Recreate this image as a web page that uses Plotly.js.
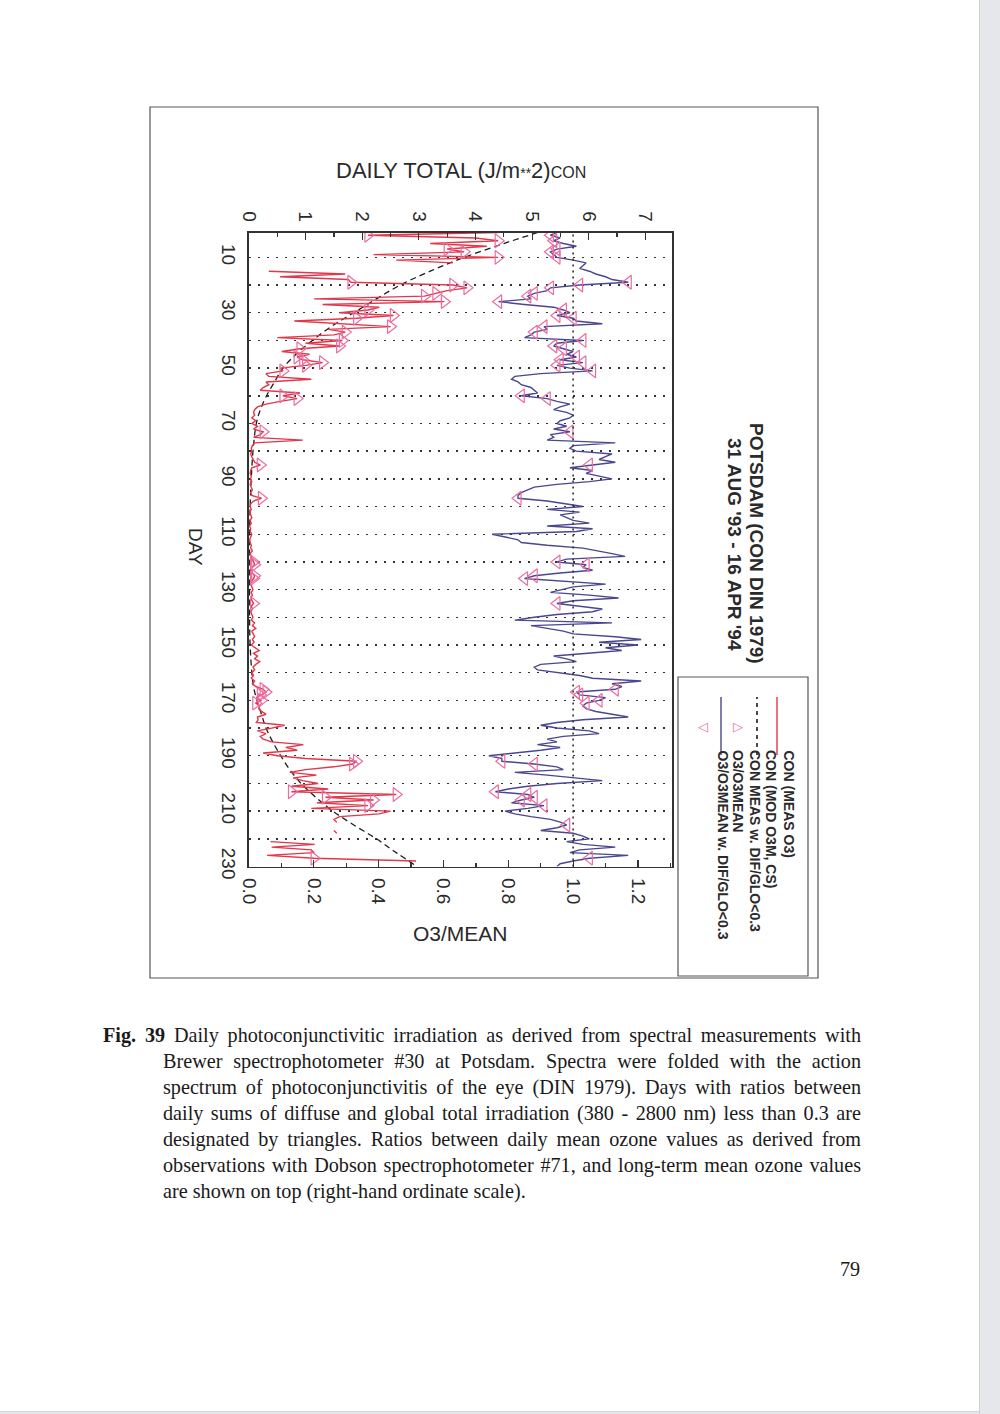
<!DOCTYPE html>
<html>
<head>
<meta charset="utf-8">
<script src="https://cdn.plot.ly/plotly-3.0.1.min.js"></script>
<style>
html,body{margin:0;padding:0;background:#fff;}
#page{position:relative;width:1000px;height:1414px;overflow:hidden;background:#fff;}
#strip{position:absolute;left:979px;top:0;width:21px;height:1414px;background:#e6e7ea;border-left:1px solid #cfd0d3;}
#bottomline{position:absolute;left:0;top:1411px;width:979px;height:3px;background:#e6e7ea;border-top:1px solid #d5d6d9;}
#chart{position:absolute;left:0;top:0;width:1000px;height:1414px;}
.cap{position:absolute;font-family:"Liberation Serif","Times New Roman",serif;font-size:20.2px;line-height:26px;height:26px;color:#1a1a1a;overflow:hidden;}
.j{text-align:justify;text-align-last:justify;}
</style>
</head>
<body>
<div id="page">
  <div id="strip"></div>
  <div id="bottomline"></div>
  <div id="chart"></div>
  <div class="cap j" style="left:103px;top:1022px;width:758px;"><b>Fig. 39</b> Daily photoconjunctivitic irradiation as derived from spectral measurements with</div>
  <div class="cap j" style="left:163px;top:1048px;width:698px;">Brewer spectrophotometer #30 at Potsdam. Spectra were folded with the action</div>
  <div class="cap j" style="left:163px;top:1074px;width:698px;">spectrum of photoconjunctivitis of the eye (DIN 1979). Days with ratios between</div>
  <div class="cap j" style="left:163px;top:1100px;width:698px;">daily sums of diffuse and global total irradiation (380 - 2800 nm) less than 0.3 are</div>
  <div class="cap j" style="left:163px;top:1126px;width:698px;">designated by triangles. Ratios between daily mean ozone values as derived from</div>
  <div class="cap j" style="left:163px;top:1152px;width:698px;">observations with Dobson spectrophotometer #71, and long-term mean ozone values</div>
  <div class="cap" style="left:163px;top:1178px;width:698px;">are shown on top (right-hand ordinate scale).</div>
  <div class="cap" style="left:840px;top:1256px;width:30px;">79</div>
</div>
<script>
// ---------------- data ----------------
const START_DAY = 1;

// CON (MEAS O3), daily total J/m**2, days 1..230
const CON_MEAS = [
  4.4, 2.1, 4.0, 4.4, 3.2, 4.2, 3.5, 3.8, 2.2, 4.4,
  2.6, 3.6, null, null, 0.35, 1.7, 0.55, 1.75, 1.8, 3.6,
  3.85, 3.5, 3.3, 3.1, 1.15, 3.45, 1.3, 2.3, 2.1, 1.6,
  2.55, 1.9, 0.8, 1.75, 2.5, 1.4, 1.7, 1.5, 0.5, 1.65,
  1.0, 1.6, 0.9, 0.58, 1.07, 0.85, 0.95, 1.3, 1.0, 0.55,
  0.6, 0.3, 0.35, 1.1, 0.3, 0.35, 0.25, 0.2, 0.9, 0.6,
  0.85, 0.55, 0.3, 0.15, 0.1, 0.08, 0.1, 0.05, 0.12, 0.05,
  0.15, 0.08, 0.25, 0.2, 0.08, 0.95, 0.1, 0.06, 0.04, 0.05,
  0.03, 0.05, 0.08, 0.1, 0.2, 0.05, 0.03, 0.02, 0.04, 0.03,
  0.05, 0.02, 0.04, 0.06, 0.03, 0.05, 0.22, 0.08, 0.03, 0.02,
  0.04, 0.01, 0.03, 0.05, 0.02, 0.04, 0.01, 0.03, 0.02, 0.05,
  0.03, 0.01, 0.02, 0.04, 0.03, 0.06, 0.02, 0.04, 0.05, 0.08,
  0.1, 0.05, 0.03, 0.06, 0.1, 0.08, 0.04, 0.03, 0.05, 0.07,
  0.04, 0.06, 0.03, 0.05, 0.08, 0.04, 0.06, 0.03, 0.05, 0.07,
  0.04, 0.1, 0.06, 0.12, 0.05, 0.08, 0.1, 0.06, 0.09, 0.04,
  0.12, 0.18, 0.08, 0.15, 0.1, 0.19, 0.12, 0.07, 0.1, 0.05,
  0.08, 0.04, 0.1, 0.06, 0.12, 0.25, 0.3, 0.2, 0.13, 0.22,
  0.12, 0.19, 0.17, 0.22, 0.3, 0.15, 0.16, 0.13, 0.63, 0.4,
  0.15, 0.3, 0.2, 0.25, 0.4, 0.96, 0.65, 0.85, 0.25, 0.5,
  1.0, 1.9, 1.83, 1.5, 1.0, 0.72, 1.19, 0.78, 0.95, 1.22,
  0.75, 1.4, 0.75, 2.6, 1.35, 2.2, 1.2, 2.1, 1.1, 2.5,
  2.3, 1.6, 1.5, 1.55, null, null, 1.5, 1.55, null, null,
  0.38, 1.16, 0.4, 1.1, 1.15, 0.32, 1.15, 2.95, null, null
];

// O3/O3MEAN ratio, days 1..230
const O3_RATIO = [
  0.95, 0.93, 0.96, 0.94, 0.97, 1.01, 0.95, 0.93, 0.94, 0.95,
  1.0, 1.04, 1.03, 1.02, 1.05, 1.07, 1.1, 1.12, 1.17, 1.02,
  0.93, 0.92, 0.88, 0.86, 0.87, 0.77, 0.85, 0.94, 0.97, 0.99,
  0.95, 1.0, 1.01, 1.09, 0.91, 0.92, 0.88, 0.87, 0.85, 1.03,
  0.95, 0.94, 0.97, 1.0, 0.98, 1.01, 0.96, 1.03, 0.95, 0.99,
  1.06, 0.9, 0.82, 0.81, 0.83, 0.84, 0.87, 0.88, 0.89, 0.84,
  0.92, 0.95, 0.99, 0.96, 0.94, 0.98, 1.0, 0.99, 0.96, 0.95,
  0.98, 0.94, 0.99, 0.93, 0.94, 0.92, 1.13, 1.0, 0.99, 1.01,
  1.12, 1.1, 1.08, 1.13, 1.05, 0.99, 1.06, 1.04, 1.08, 1.12,
  1.05, 0.95, 0.88, 0.86, 0.84, 0.83, 0.83, 0.92, 0.97, 1.03,
  0.92, 1.02, 0.96, 0.98, 1.0, 1.05, 0.92, 1.06, 1.01, 0.75,
  0.79, 0.83, 0.84, 0.92, 1.03, 1.08, 1.12, 1.16, 0.98, 0.95,
  1.04, 1.03, 1.06, 0.96, 0.88, 0.85, 0.98, 1.1, 1.0, 0.96,
  0.93, 1.05, 1.14, 1.0, 0.95, 1.02, 1.09, 1.06, 0.95, 0.88,
  0.82, 1.12, 0.87, 0.92, 0.97, 1.0, 1.13, 1.21, 1.08, 1.2,
  1.1, 1.15, 1.05, 0.94, 0.98, 1.01, 0.9, 0.88, 0.89, 0.95,
  1.02, 1.06, 1.21, 1.12, 1.15, 1.13, 1.01, 1.02, 1.1, 1.08,
  1.04, 1.03, 1.04, 1.07, 1.12, 1.17, 1.03, 0.95, 0.9, 0.95,
  1.05, 1.08, 0.97, 0.92, 0.95, 0.89, 0.96, 0.9, 0.82, 0.74,
  0.78, 0.78, 0.88, 0.95, 0.97, 0.82, 0.92, 1.0, 1.09, 0.95,
  0.86, 0.8, 0.76, 0.86, 0.88, 0.84, 0.81, 0.91, 0.86, 0.79,
  0.82, 0.87, 0.93, 0.96, 0.98, 0.95, 0.9, 1.0, 1.03, 1.05,
  0.98, 1.03, 1.13, 1.02, 0.99, 1.17, 1.05, 1.0, 0.96, 0.95
];

// days with DIF/GLO < 0.3 (triangles)
const TRI_DAYS = [2, 4, 7, 8, 10, 19, 20, 21, 23, 24, 26, 29, 31, 32, 35, 37, 40, 42, 43,
  46, 47, 48, 49, 51, 60, 61, 73, 85, 97, 120, 121, 125, 126, 135, 166, 167, 168, 170, 171,
  192, 193, 203, 204, 205, 206, 208, 215, 227];

// CON (MOD O3M, CS) model curve
const MOD_DAYS = [1, 5, 10, 15, 20, 25, 30, 35, 40, 45, 50, 55, 60, 65, 70, 80, 90, 100, 110,
  120, 130, 140, 150, 160, 165, 170, 175, 180, 185, 190, 195, 200, 205, 210, 215, 220, 225, 230];
const CON_MOD = [5.1, 4.5, 3.8, 3.2, 2.67, 2.25, 1.85, 1.45, 1.12, 0.83, 0.6, 0.45, 0.31, 0.2,
  0.13, 0.07, 0.04, 0.02, 0.01, 0.01, 0.01, 0.01, 0.02, 0.05, 0.08, 0.14, 0.22, 0.3, 0.42, 0.56,
  0.72, 0.92, 1.18, 1.48, 1.85, 2.25, 2.6, 2.97];

const REF_RATIO = 1.0;
const DAY_TICKS = [10, 30, 50, 70, 90, 110, 130, 150, 170, 190, 210, 230];
const CON_TICKS = [0, 1, 2, 3, 4, 5, 6, 7];
const RATIO_TICKS = [0.0, 0.2, 0.4, 0.6, 0.8, 1.0, 1.2];

const LEGEND_LABELS = ["CON (MEAS O3)", "CON (MOD O3M, CS)", "CON MEAS w. DIF/GLO<0.3",
  "O3/O3MEAN", "O3/O3MEAN w. DIF/GLO<0.3"];

// ---------------- drawing ----------------
const DAYS = CON_MEAS.map((_, i) => START_DAY + i);
const triCon = TRI_DAYS.map(d => CON_MEAS[d - START_DAY]);
const triO3 = TRI_DAYS.map(d => O3_RATIO[d - START_DAY]);

const RED = '#e1374a', BLUE = '#4a4690', PINK = '#ec6c9f', INK = '#2a2a2a';
const W = 1000, H = 1414;
const px = x => x / W;
const py = y => 1 - y / H;

const yDom = [py(866.5), py(233)];
const xDom = [px(249), px(672)];

const traces = [
  {x: CON_MOD, y: MOD_DAYS, xaxis: 'x2', yaxis: 'y', mode: 'lines',
   line: {color: '#1c1c1c', width: 1.3, dash: '6px,4px', shape: 'spline'}, hoverinfo: 'skip'},
  {x: CON_MEAS, y: DAYS, xaxis: 'x2', yaxis: 'y', mode: 'lines', connectgaps: false,
   line: {color: RED, width: 1.4}},
  {x: triCon, y: TRI_DAYS, xaxis: 'x2', yaxis: 'y', mode: 'markers',
   marker: {symbol: 'triangle-right-open', size: 12, color: PINK, line: {width: 1.2, color: PINK}}},
  {x: O3_RATIO, y: DAYS, xaxis: 'x', yaxis: 'y', mode: 'lines',
   line: {color: BLUE, width: 1.4}},
  {x: triO3, y: TRI_DAYS, xaxis: 'x', yaxis: 'y', mode: 'markers',
   marker: {symbol: 'triangle-left-open', size: 12, color: PINK, line: {width: 1.2, color: PINK}}}
];

const tickFont = {family: 'Liberation Sans, Arial, sans-serif', size: 19, color: INK};
const GRID_DOT = '2px,7px';

const layout = {
  width: W, height: H,
  margin: {l: 0, r: 0, t: 0, b: 0},
  paper_bgcolor: 'rgba(0,0,0,0)', plot_bgcolor: 'rgba(0,0,0,0)',
  showlegend: false,
  font: {family: 'Liberation Sans, Arial, sans-serif', color: INK},
  xaxis: {
    domain: xDom, range: [0, 1.305], anchor: 'y', side: 'bottom',
    tickvals: RATIO_TICKS, tickformat: '.1f', tickangle: 90, tickfont: tickFont,
    ticks: 'inside', ticklen: 7, tickwidth: 1.2, tickcolor: '#333',
    minor: {dtick: 0.1, tick0: 0, ticks: 'inside', ticklen: 4, tickcolor: '#333'},
    showline: true, linecolor: '#333', linewidth: 1.6,
    showgrid: false, zeroline: false, ticklabelstandoff: 6
  },
  xaxis2: {
    domain: xDom, range: [0, 7.47], anchor: 'y', side: 'top', overlaying: 'x',
    tickvals: CON_TICKS, tickangle: 90, tickfont: tickFont,
    ticks: 'inside', ticklen: 7, tickwidth: 1.2, tickcolor: '#333',
    minor: {dtick: 0.5, tick0: 0, ticks: 'inside', ticklen: 4, tickcolor: '#333'},
    showline: true, linecolor: '#333', linewidth: 1.6,
    showgrid: false, zeroline: false, ticklabelstandoff: 3
  },
  yaxis: {
    domain: yDom, range: [230, 1.2], anchor: 'x',
    tickvals: DAY_TICKS, tickangle: 90, tickfont: tickFont, ticks: '',
    showline: true, mirror: true, linecolor: '#333', linewidth: 1.6,
    showgrid: true, gridcolor: '#333', gridwidth: 1.4, griddash: GRID_DOT,
    minor: {dtick: 10, tick0: 0, showgrid: true, gridcolor: '#333', gridwidth: 1.4, griddash: GRID_DOT},
    zeroline: false, ticklabelstandoff: 3
  },
  shapes: [
    {type: 'line', xref: 'x', yref: 'paper', x0: REF_RATIO, x1: REF_RATIO, y0: yDom[0], y1: yDom[1],
     line: {color: '#333', width: 1.6, dash: '2px,4px'}},
    {type: 'rect', xref: 'paper', yref: 'paper', x0: px(150), x1: px(818), y0: py(978), y1: py(107),
     line: {color: '#555', width: 1.2}},
    {type: 'rect', xref: 'paper', yref: 'paper', x0: px(678), x1: px(808), y0: py(976), y1: py(677),
     line: {color: '#555', width: 1.2}},
    {type: 'line', xref: 'paper', yref: 'paper', x0: px(777), x1: px(777), y0: py(755), y1: py(697),
     line: {color: RED, width: 1.4}},
    {type: 'line', xref: 'paper', yref: 'paper', x0: px(757), x1: px(757), y0: py(755), y1: py(697),
     line: {color: '#1c1c1c', width: 1.6, dash: '4px,4px'}},
    {type: 'line', xref: 'paper', yref: 'paper', x0: px(721), x1: px(721), y0: py(755), y1: py(697),
     line: {color: BLUE, width: 1.4}}
  ],
  annotations: [
    {xref: 'paper', yref: 'paper', x: px(461), y: py(170), xanchor: 'center', yanchor: 'middle', showarrow: false,
     text: 'DAILY TOTAL (J/m<span style="font-size:14px">**</span>2)<span style="font-size:16px">CON</span>',
     font: {size: 22, color: INK}},
    {xref: 'paper', yref: 'paper', x: px(460), y: py(933), xanchor: 'center', yanchor: 'middle', showarrow: false,
     text: 'O3/MEAN', font: {size: 21, color: INK}},
    {xref: 'paper', yref: 'paper', x: px(196), y: py(547), xanchor: 'center', yanchor: 'middle', showarrow: false, textangle: 90,
     text: 'DAY', font: {size: 19, color: INK}},
    {xref: 'paper', yref: 'paper', x: px(757), y: py(543), xanchor: 'center', yanchor: 'middle', showarrow: false, textangle: 90,
     text: '<b>POTSDAM (CON DIN 1979)</b>', font: {size: 19, color: INK}},
    {xref: 'paper', yref: 'paper', x: px(735), y: py(544), xanchor: 'center', yanchor: 'middle', showarrow: false, textangle: 90,
     text: "<b>31 AUG '93 - 16 APR '94</b>", font: {size: 19, color: INK}},
    {xref: 'paper', yref: 'paper', x: px(738), y: py(726), xanchor: 'center', yanchor: 'middle', showarrow: false,
     text: '\u25B7', font: {family: 'DejaVu Sans', size: 13, color: PINK}},
    {xref: 'paper', yref: 'paper', x: px(703), y: py(726), xanchor: 'center', yanchor: 'middle', showarrow: false,
     text: '\u25C1', font: {family: 'DejaVu Sans', size: 13, color: PINK}}
  ]
};

const legendX = [788, 771, 755, 738, 722];
LEGEND_LABELS.forEach((t, i) => {
  layout.annotations.push({
    xref: 'paper', yref: 'paper', x: px(legendX[i]), y: py(748), xanchor: 'center', yanchor: 'top',
    showarrow: false, textangle: 90, text: '<b>' + t + '</b>',
    font: {size: 14, color: INK}
  });
});

Plotly.newPlot('chart', traces, layout, {staticPlot: true});
</script>
</body>
</html>
